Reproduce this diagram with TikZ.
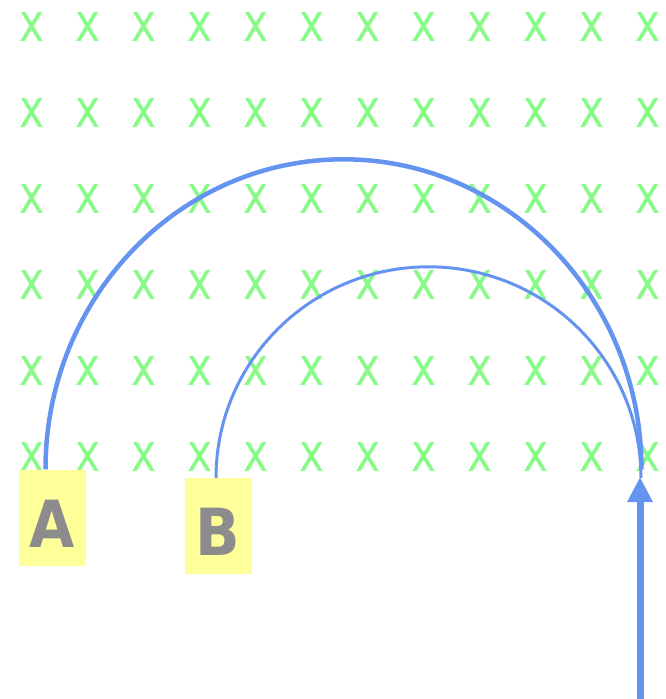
\documentclass[tikz,border=0pt]{standalone}
\usepackage{fontspec}
\setmainfont{DejaVu Sans}
\usetikzlibrary{arrows.meta}
\definecolor{gridgreen}{RGB}{136,250,136}
\definecolor{arcblue}{RGB}{100,148,240}
\definecolor{boxyellow}{RGB}{255,255,153}
\definecolor{lettergray}{RGB}{140,140,140}
\begin{document}
\begin{tikzpicture}[x=1pt,y=-1pt,
  gridx/.style={text=gridgreen, inner sep=0pt, font=\fontsize{53}{53}\selectfont},
  labelbox/.style={fill=boxyellow, text=lettergray, inner sep=0pt, minimum width=67pt, minimum height=96pt, font=\bfseries\fontsize{65}{65}\selectfont, text height=59pt, text depth=0pt},
  bigarc/.style={draw=arcblue, line width=4.5pt},
  smallarc/.style={draw=arcblue, line width=3pt},
  arrowline/.style={draw=arcblue, line width=7pt, -{Triangle[width=24pt,length=25pt]}}]
\useasboundingbox (0,0) rectangle (666,699);
\foreach \i in {0,...,11} \foreach \j in {0,...,5}
  \node[gridx] (g\i\j) at (32+56*\i, 27.5+86*\j) {\scalebox{0.8}[1]{x}};
\node[labelbox] (A) at (52.5,517.5) {\scalebox{0.9}[1]{A}};
\node[labelbox] (B) at (218,526) {\scalebox{0.9}[1]{B}};
\coordinate (tip) at (640,477);
\coordinate (bottom) at (640,699);
\draw[bigarc] ([xshift=-7pt]A.north) arc[start angle=180,end angle=0,x radius=298pt,y radius=310pt];
\draw[smallarc] ([xshift=-2pt]B.north) arc[start angle=180,end angle=0,x radius=212.5pt,y radius=211pt];
\draw[arrowline] (bottom) -- (tip);
\end{tikzpicture}
\end{document}
